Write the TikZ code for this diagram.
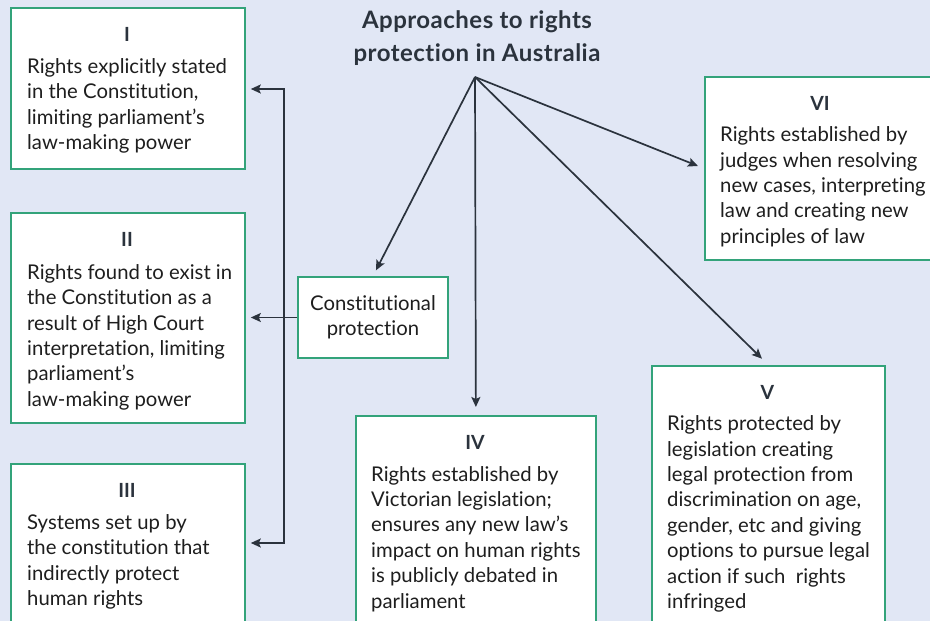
\documentclass[tikz,border=0pt]{standalone}
\usepackage{fontspec}
\setmainfont{Lato}[Ligatures=NoCommon]
\usetikzlibrary{arrows.meta}
\definecolor{bgc}{HTML}{E1E7F5}
\definecolor{grn}{HTML}{33A37A}
\definecolor{ink}{HTML}{2B333D}
\definecolor{txt}{HTML}{1E1E1E}
\begin{document}
\begin{tikzpicture}[x=1pt,y=-1pt,
  boxs/.style={draw=grn,line width=1.8pt,fill=white,inner sep=0pt,anchor=north west},
  head/.style={font=\fontsize{19.5}{22}\selectfont\bfseries,text=ink,anchor=base,inner sep=0pt},
  body/.style={font=\fontsize{20.3}{25.4}\selectfont,text=txt,anchor=north west,align=left,inner sep=0pt},
  arr/.style={draw=ink,line width=1.7pt,-{Stealth[length=10pt,width=9pt,inset=2pt]}},
  arrs/.style={draw=ink,line width=1.7pt,{Stealth[length=10pt,width=9pt,inset=2pt]}-{Stealth[length=10pt,width=9pt,inset=2pt]}},
]
\useasboundingbox (0,0) rectangle (930,621);
\clip (0,0) rectangle (930,621);
\fill[bgc] (0,0) rectangle (930,621);

% boxes
\node[boxs,minimum width=234,minimum height=161] (b1) at (10,7) {};
\node[boxs,minimum width=234,minimum height=210] (b2) at (10,212) {};
\node[boxs,minimum width=234,minimum height=170] (b3) at (10,463) {};
\node[boxs,minimum width=240,minimum height=220] (b4) at (355,415) {};
\node[boxs,minimum width=233,minimum height=270] (b5) at (651,365) {};
\node[boxs,minimum width=232,minimum height=183] (b6) at (704,76) {};
\node[draw=grn,line width=1.8pt,fill=white,inner sep=0pt,minimum width=150,minimum height=81,
  align=center,font=\fontsize{20.3}{25.4}\selectfont,text=txt] (cp) at (373,317.5) {Constitutional\\protection};

% title
\node[font=\fontsize{24}{33.5}\selectfont\bfseries\addfontfeature{LetterSpace=2},text=ink,align=center,anchor=north,inner sep=0pt] (title) at (477,10.3)
  {Approaches to rights\\protection in Australia};
\coordinate (apex) at (475,77);

% headings
\node[head] (h1) at (127,41.5) {I};
\node[head] (h2) at (127,246.5) {II};
\node[head] (h3) at (127,497.5) {III};
\node[head] (h4) at (475,449.5) {IV};
\node[head] (h5) at (767.5,399.5) {V};
\node[head] (h6) at (820,110.5) {VI};

% bodies
\node[body] (t1) at (27,58.2) {Rights explicitly stated\\in the Constitution,\\limiting parliament’s\\law-making power};
\node[body] (t2) at (27,264.2) {Rights found to exist in\\the Constitution as a\\result of High Court\\interpretation, limiting\\parliament’s\\law-making power};
\node[body] (t3) at (27,514.2) {Systems set up by\\the constitution that\\indirectly protect\\human rights};
\node[body] (t4) at (371,466) {Rights established by\\Victorian legislation;\\ensures any new law’s\\impact on human rights\\is publicly debated in\\parliament};
\node[body] (t5) at (667,415.5) {Rights protected by\\legislation creating\\legal protection from\\discrimination on age,\\gender, etc and giving\\options to pursue legal\\action if such\ \ rights\\infringed};
\node[body] (t6) at (720,126.5) {Rights established by\\judges when resolving\\new cases, interpreting\\law and creating new\\principles of law};

% connectors from apex
\draw[arr,shorten >=6.5pt] (apex) -- (cp.north);
\draw[arr,shorten >=8pt] (apex) -- (b4.north);
\draw[arr,shorten >=9pt] (apex) -- (b5.north);
\draw[arr,shorten >=6.5pt] (apex) -- (b6.west);

% bracket
\coordinate (j1) at (284,89);
\coordinate (j3) at (284,543);
\draw[arrs,line join=miter,shorten <=5pt,shorten >=5pt] (b1.east |- j1) -- (j1) -- (j3) -- (b3.east |- j3);
\draw[arr,shorten >=5pt] (cp.west) -- (b2.east |- cp.west);
\end{tikzpicture}
\end{document}
